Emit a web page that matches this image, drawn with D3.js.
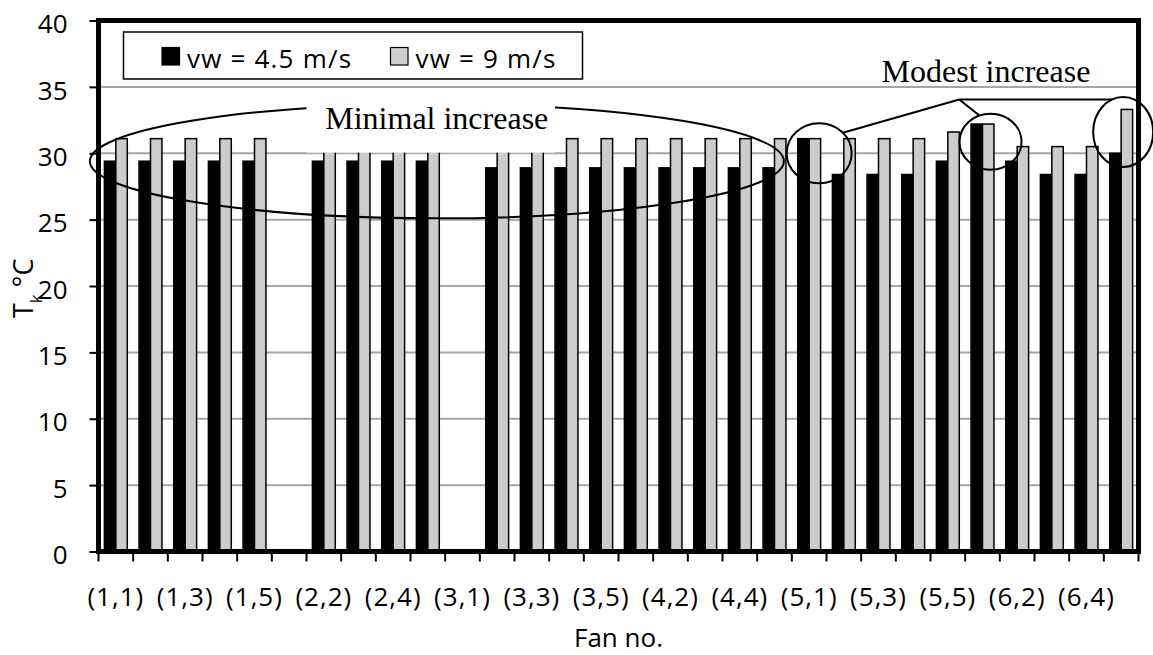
<!DOCTYPE html>
<html>
<head>
<meta charset="utf-8">
<script src="https://cdn.jsdelivr.net/npm/d3@7"></script>
<style>
  body { margin: 0; background: #fff; }
  svg { display: block; }
</style>
</head>
<body>
<script>
const width = 1153;
const height = 655;
const margin = { top: 20.5, right: 14.5, bottom: 103.5, left: 98.5 };

// fan positions (row, column)
const fans = [
  '(1,1)', '(1,2)', '(1,3)', '(1,4)', '(1,5)',
  '(2,1)', '(2,2)', '(2,3)', '(2,4)', '(2,5)',
  '(3,1)', '(3,2)', '(3,3)', '(3,4)', '(3,5)',
  '(4,1)', '(4,2)', '(4,3)', '(4,4)', '(4,5)',
  '(5,1)', '(5,2)', '(5,3)', '(5,4)', '(5,5)',
  '(6,1)', '(6,2)', '(6,3)', '(6,4)', '(6,5)'
];

// T_k in °C, 0 where no fan
const tkLow = [
  29.4, 29.4, 29.4, 29.4, 29.4,
  0, 29.4, 29.4, 29.4, 29.4,
  0, 28.9, 28.9, 28.9, 28.9,
  28.9, 28.9, 28.9, 28.9, 28.9,
  31.1, 28.4, 28.4, 28.4, 29.4,
  32.2, 29.4, 28.4, 28.4, 30.0
];
const tkHigh = [
  31.1, 31.1, 31.1, 31.1, 31.1,
  0, 31.1, 31.1, 31.1, 31.1,
  0, 31.1, 31.1, 31.1, 31.1,
  31.1, 31.1, 31.1, 31.1, 31.1,
  31.1, 31.1, 31.1, 31.1, 31.6,
  32.2, 30.5, 30.5, 30.5, 33.3
];

const seriesNames = ['vw = 4.5 m/s', 'vw = 9 m/s'];
const seriesColors = ['#000000', '#cccccc'];
const yTicks = [0, 5, 10, 15, 20, 25, 30, 35, 40];
const xLabels = fans.filter((d, i) => i % 2 === 0);

const sansFont = '"Open Sans", "Noto Sans", sans-serif';
const serifFont = '"Liberation Serif", "DejaVu Serif", serif';

const data = fans.map((f, i) => ({ fan: f, values: [tkLow[i], tkHigh[i]] }));

const x = d3.scaleBand()
  .domain(fans)
  .range([margin.left, width - margin.right])
  .paddingInner(0.34)
  .paddingOuter(0.17);

const xSeries = d3.scaleBand()
  .domain([0, 1])
  .range([0, x.bandwidth()]);

const y = d3.scaleLinear()
  .domain([0, 40])
  .range([height - margin.bottom, margin.top]);

const svg = d3.select('body').append('svg')
  .attr('width', width)
  .attr('height', height);

// gridlines
svg.append('g')
  .selectAll('line')
  .data(yTicks.filter(d => d > 0 && d < 40))
  .join('line')
    .attr('x1', margin.left)
    .attr('x2', width - margin.right)
    .attr('y1', d => y(d))
    .attr('y2', d => y(d))
    .attr('stroke', '#a6a6a6')
    .attr('stroke-width', 2);

// bars
const groups = svg.append('g')
  .selectAll('g')
  .data(data)
  .join('g')
    .attr('transform', d => `translate(${x(d.fan)},0)`);

groups.selectAll('rect')
  .data(d => d.values.map((v, k) => ({ k, v })).filter(e => e.v > 0))
  .join('rect')
    .attr('x', e => xSeries(e.k))
    .attr('width', xSeries.bandwidth())
    .attr('y', e => y(e.v))
    .attr('height', e => y(0) - y(e.v))
    .attr('fill', e => seriesColors[e.k])
    .attr('stroke', '#000')
    .attr('stroke-width', 1.5);

// "Minimal increase" ellipse, placed in data space
const step = x.step();
const ellLeft = x('(1,1)') - step * 0.42;
const ellRight = x('(5,1)') - step * 0.4;
svg.append('ellipse')
  .attr('cx', (ellLeft + ellRight) / 2)
  .attr('cy', y(29.4))
  .attr('rx', (ellRight - ellLeft) / 2)
  .attr('ry', y(25.1) - y(29.4))
  .attr('fill', 'none')
  .attr('stroke', '#000')
  .attr('stroke-width', 2);

// white label box that hides the bar tops behind the text
const boxLeft = x('(2,2)') - step * 0.17;
const boxRight = x('(3,4)');
svg.append('rect')
  .attr('x', boxLeft)
  .attr('y', y(34.4))
  .attr('width', boxRight - boxLeft)
  .attr('height', y(30.05) - y(34.4))
  .attr('fill', '#fff');

svg.append('text')
  .attr('x', (boxLeft + boxRight) / 2 + 6)
  .attr('y', y(31.8))
  .attr('text-anchor', 'middle')
  .attr('font-family', serifFont)
  .attr('font-size', '32px')
  .text('Minimal increase');

// "Modest increase" circles
const circles = [
  { fan: '(5,1)', dx: 10, v: 30.0, rx: 32.5, ry: 30 },
  { fan: '(6,1)', dx: 8, v: 30.87, rx: 31, ry: 28 },
  { fan: '(6,5)', dx: 2, v: 31.6, rx: 30, ry: 35 }
];
const cxOf = c => x(c.fan) + x.bandwidth() / 2 + c.dx;

svg.append('g')
  .selectAll('ellipse')
  .data(circles)
  .join('ellipse')
    .attr('cx', cxOf)
    .attr('cy', c => y(c.v))
    .attr('rx', c => c.rx)
    .attr('ry', c => c.ry)
    .attr('fill', 'none')
    .attr('stroke', '#000')
    .attr('stroke-width', 2);

// leader lines from the label to the circles
const apex = [x('(6,1)') - step * 0.34, y(34.05)];
const ptOnEll = (c, deg) => {
  const a = deg * Math.PI / 180;
  return [cxOf(c) + c.rx * Math.cos(a), y(c.v) - c.ry * Math.sin(a)];
};
const leaders = [
  [apex, ptOnEll(circles[0], 43)],
  [apex, ptOnEll(circles[1], 111)],
  [apex, [cxOf(circles[2]) - 11, apex[1]]]
];
svg.append('g')
  .selectAll('line')
  .data(leaders)
  .join('line')
    .attr('x1', d => d[0][0])
    .attr('y1', d => d[0][1])
    .attr('x2', d => d[1][0])
    .attr('y2', d => d[1][1])
    .attr('stroke', '#000')
    .attr('stroke-width', 2);

svg.append('text')
  .attr('x', 986)
  .attr('y', y(35.35))
  .attr('text-anchor', 'middle')
  .attr('font-family', serifFont)
  .attr('font-size', '32px')
  .text('Modest increase');

// legend
const legend = svg.append('g');
legend.append('rect')
  .attr('x', 123.5)
  .attr('y', 32)
  .attr('width', 459)
  .attr('height', 47)
  .attr('fill', '#fff')
  .attr('stroke', '#000')
  .attr('stroke-width', 1.5);

const legendX = [162, 390.5];
seriesNames.forEach((name, k) => {
  legend.append('rect')
    .attr('x', legendX[k])
    .attr('y', 47.5)
    .attr('width', 17.5)
    .attr('height', 17.5)
    .attr('fill', seriesColors[k])
    .attr('stroke', '#000')
    .attr('stroke-width', 1.2);
  legend.append('text')
    .attr('x', legendX[k] + 25)
    .attr('y', 67.5)
    .attr('font-family', sansFont)
    .attr('font-size', '26px')
    .attr('letter-spacing', '1.2px')
    .text(name);
});

// plot frame
svg.append('rect')
  .attr('x', margin.left)
  .attr('y', margin.top)
  .attr('width', width - margin.left - margin.right)
  .attr('height', height - margin.top - margin.bottom)
  .attr('fill', 'none')
  .attr('stroke', '#000')
  .attr('stroke-width', 5);

// y axis
const yAxis = svg.append('g')
  .attr('transform', `translate(${margin.left},0)`)
  .call(d3.axisLeft(y).tickValues(yTicks).tickSize(9).tickPadding(22));
yAxis.select('.domain').remove();
yAxis.selectAll('.tick line').attr('stroke-width', 2);
yAxis.selectAll('.tick text')
  .attr('dy', '0.47em')
  .attr('font-family', sansFont)
  .attr('font-size', '26px')
  .attr('fill', '#000');

// x axis: ticks at category boundaries, labels every other fan
const boundaries = fans.map(f => x(f) - step * 0.17).concat([x(fans[fans.length - 1]) + x.bandwidth() + step * 0.17]);
svg.append('g')
  .selectAll('line')
  .data(boundaries)
  .join('line')
    .attr('x1', d => d)
    .attr('x2', d => d)
    .attr('y1', y(0))
    .attr('y2', y(0) + 10)
    .attr('stroke', '#000')
    .attr('stroke-width', 2);

const xAxis = svg.append('g')
  .attr('transform', `translate(0,${y(0)})`)
  .call(d3.axisBottom(x).tickValues(xLabels).tickSize(0).tickPadding(36));
xAxis.select('.domain').remove();
xAxis.selectAll('.tick text')
  .attr('font-family', sansFont)
  .attr('font-size', '26px')
  .attr('letter-spacing', '1px')
  .attr('fill', '#000');

// axis titles
svg.append('text')
  .attr('x', (margin.left + width - margin.right) / 2)
  .attr('y', 647)
  .attr('text-anchor', 'middle')
  .attr('font-family', sansFont)
  .attr('font-size', '26px')
  .text('Fan no.');

const yTitle = svg.append('text')
  .attr('transform', 'translate(33,318) rotate(-90)')
  .attr('font-family', sansFont)
  .attr('font-size', '27px');
yTitle.append('tspan').text('T');
yTitle.append('tspan').attr('dy', 9).attr('font-size', '17px').text('k');
yTitle.append('tspan').attr('dy', -9).text(' °C');
</script>
</body>
</html>
